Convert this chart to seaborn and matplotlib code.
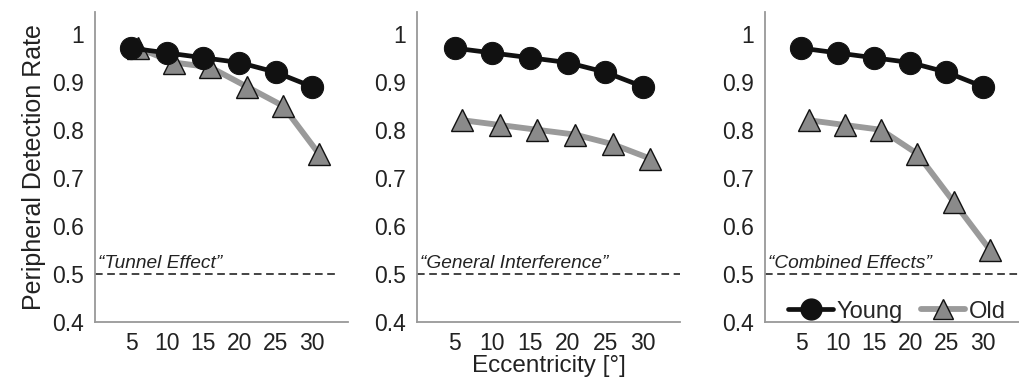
import numpy as np
import pandas as pd
import seaborn as sns
import matplotlib.pyplot as plt
from matplotlib.lines import Line2D

sns.set_style("white")
plt.rcParams['font.family'] = ['Liberation Sans', 'DejaVu Sans']

ecc_young = [5, 10, 15, 20, 25, 30]
ecc_old = [6, 11, 16, 21, 26, 31]
young = [0.97, 0.96, 0.95, 0.94, 0.92, 0.89]
old_tunnel = [0.97, 0.94, 0.93, 0.89, 0.85, 0.75]
old_general = [0.82, 0.81, 0.80, 0.79, 0.77, 0.74]
old_combined = [0.82, 0.81, 0.80, 0.75, 0.65, 0.55]
panel_labels = ['\u201cTunnel Effect\u201d', '\u201cGeneral Interference\u201d', '\u201cCombined Effects\u201d']
yticks = [0.4, 0.5, 0.6, 0.7, 0.8, 0.9, 1.0]
ytick_labels = ['0.4', '0.5', '0.6', '0.7', '0.8', '0.9', '1']

fig = plt.figure(figsize=(10.2, 3.84), dpi=100)
lefts = [0.093, 0.409, 0.750]
widths = [0.248, 0.258, 0.249]
dash_ends = [33.4, 35, 35]

for i, old in enumerate([old_tunnel, old_general, old_combined]):
    ax = fig.add_axes([lefts[i], 0.1615, widths[i], 0.807])
    ax.plot([0, dash_ends[i]], [0.5, 0.5], ls=(0, (5, 3)), color='#111111', lw=1.1)
    sns.lineplot(x=ecc_young, y=young, ax=ax, color='#111111', lw=3.4,
                 marker='o', markersize=16, markeredgecolor='#111111', zorder=4)
    sns.lineplot(x=ecc_old, y=old, ax=ax, color='#9a9a9a', lw=4.2,
                 marker='^', markersize=16, markerfacecolor='#8a8a8a',
                 markeredgecolor='#111111', markeredgewidth=1.0, zorder=3)
    ax.text(0.4, 0.513, panel_labels[i], fontsize=13.8, style='italic', color='#222222')
    ax.set_xlim(0, 35)
    ax.set_ylim(0.4, 1.045)
    ax.set_xticks(ecc_young)
    ax.set_xticklabels([str(v) for v in ecc_young], fontsize=16.5, color='#222222')
    ax.set_xticks([0, 35], minor=True)
    ax.set_yticks(yticks)
    ax.set_yticklabels(ytick_labels, fontsize=16.5, color='#222222')
    ax.tick_params(axis='x', which='major', length=0, pad=7)
    ax.tick_params(axis='x', which='minor', length=5, color='#999999', direction='out')
    ax.tick_params(axis='y', length=0, pad=8)
    for s in ['top', 'right']:
        ax.spines[s].set_visible(False)
    for s in ['left', 'bottom']:
        ax.spines[s].set_color('#999999')
        ax.spines[s].set_linewidth(1.3)
    if i == 0:
        ax.set_ylabel('Peripheral Detection Rate', fontsize=18, color='#222222', labelpad=4)
    if i == 1:
        ax.set_xlabel('Eccentricity [\u00b0]', fontsize=17.5, color='#222222', labelpad=0)
    if i == 2:
        handles = [
            Line2D([], [], color='#111111', lw=3.4, marker='o', markersize=15),
            Line2D([], [], color='#9a9a9a', lw=4.2, marker='^', markersize=15,
                   markerfacecolor='#8a8a8a', markeredgecolor='#111111'),
        ]
        ax.legend(handles, ['Young', 'Old'], loc='lower center', ncol=2, frameon=False,
                  fontsize=17, handlelength=1.9, handletextpad=0.15, columnspacing=0.75,
                  borderpad=0.2, bbox_to_anchor=(0.52, -0.055))

fig.savefig('out.png', dpi=100)
